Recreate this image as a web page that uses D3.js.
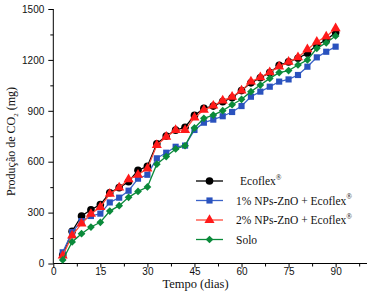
<!DOCTYPE html>
<html>
<head>
<meta charset="utf-8">
<script src="https://cdn.jsdelivr.net/npm/d3@7"></script>
<style>
	body { margin: 0; background: white; }
	.tick text { font-family: "Liberation Sans", Arial, sans-serif; font-size: 10px; fill: #111; }
	.serif { font-family: "Liberation Serif", "Times New Roman", serif; fill: #111; }
</style>
</head>
<body>
<svg id="chart" width="374" height="295"></svg>
<script>

	var days = [3,6,9,12,15,18,21,24,27,30,33,36,39,42,45,48,51,54,57,60,63,66,69,72,75,78,81,84,87,90];

	var ecoflex = [50,190,280,317,347,417,447,482,549,573,706,751,786,803,873,915,928,954,977,1019,1065,1095,1125,1168,1188,1210,1239,1288,1317,1362];
	var zno1 = [66,185,250,280,294,360,388,429,500,523,620,653,688,695,787,830,848,868,893,928,983,1013,1042,1072,1085,1111,1160,1215,1248,1278];
	var zno2 = [46,164,235,292,333,410,447,496,523,559,698,746,786,786,860,905,930,960,983,1019,1072,1097,1127,1160,1188,1215,1262,1307,1337,1386];
	var solo = [21,127,176,215,243,309,341,390,425,451,585,630,675,694,799,856,875,901,936,968,1013,1052,1091,1125,1137,1170,1200,1268,1301,1341];

	var xTicks = [0,15,30,45,60,75,90];
	var yTicks = [0,300,600,900,1200,1500];

	var series = [
		{ name: "Ecoflex", reg: true, values: ecoflex, color: "#000000", line: "#000000", shape: d3.symbolCircle, size: 46, rot: 0 },
		{ name: "1% NPs-ZnO + Ecoflex", reg: true, values: zno1, color: "#2a52be", line: "#3a62c8", shape: d3.symbolSquare, size: 38, rot: 0 },
		{ name: "2% NPs-ZnO + Ecoflex", reg: true, values: zno2, color: "#ff1a1a", line: "#ff4a3a", shape: d3.symbolTriangle, size: 44, rot: 0 },
		{ name: "Solo", reg: false, values: solo, color: "#0a8a3a", line: "#0a8a3a", shape: d3.symbolSquare, size: 30, rot: 45 }
	];

	var mLeft = 53.3, mRight = 367, mTop = 9, mBottom = 263.5;

	var x = d3.scaleLinear().domain([0, 100]).range([mLeft, mRight]);
	var y = d3.scaleLinear().domain([0, 1500]).range([mBottom, mTop]);

	var svg = d3.select("#chart");

	// minor ticks
	svg.append("g")
		.attr("transform", "translate(0," + mBottom + ")")
		.call(d3.axisBottom(x).tickValues(d3.range(7.5, 100, 15)).tickSize(3).tickFormat(""))
		.call(g => g.select(".domain").remove());
	svg.append("g")
		.attr("transform", "translate(" + mLeft + ",0)")
		.call(d3.axisLeft(y).tickValues(d3.range(150, 1500, 300)).tickSize(3).tickFormat(""))
		.call(g => g.select(".domain").remove());

	svg.append("g")
		.attr("transform", "translate(0," + mBottom + ")")
		.call(d3.axisBottom(x).tickValues(xTicks).tickSize(4).tickSizeOuter(0).tickPadding(0).tickFormat(d3.format("d")))
		.call(g => g.select(".domain").attr("d", "M" + mLeft + ",0H" + mRight));
	svg.append("g")
		.attr("transform", "translate(" + mLeft + ",0)")
		.call(d3.axisLeft(y).tickValues(yTicks).tickSize(5).tickSizeOuter(0).tickPadding(4).tickFormat(d3.format("d")))
		.call(g => g.select(".domain").attr("d", "M0," + mBottom + "V" + mTop));

	svg.selectAll(".tick line, .domain").attr("stroke", "#000").attr("stroke-width", 1);

	var line = d3.line().x((d, i) => x(days[i])).y(d => y(d));

	series.forEach(function(s) {
		var g = svg.append("g");
		g.append("path")
			.datum(s.values)
			.attr("d", line)
			.attr("fill", "none")
			.attr("stroke", s.line)
			.attr("stroke-width", 1.3);
		g.selectAll("path.pt")
			.data(s.values).enter().append("path")
				.attr("class", "pt")
				.attr("d", d3.symbol().type(s.shape).size(s.size))
				.attr("transform", (d, i) => "translate(" + x(days[i]) + "," + y(d) + ") rotate(" + s.rot + ")")
				.attr("fill", s.color);
	});

	// legend
	var leg = svg.append("g").attr("transform", "translate(196,181)");
	series.forEach(function(s, i) {
		var row = leg.append("g").attr("transform", "translate(0," + (i * 19.5) + ")");
		row.append("line").attr("x1", 0).attr("x2", 27).attr("stroke", s.line).attr("stroke-width", 1.3);
		row.append("path")
			.attr("d", d3.symbol().type(s.shape).size(s.size))
			.attr("transform", "translate(13.5,0) rotate(" + s.rot + ")")
			.attr("fill", s.color);
		var t = row.append("text")
			.attr("class", "serif")
			.attr("x", i == 0 ? 44 : 40)
			.attr("y", 4)
			.attr("font-size", 11.5)
			.text(s.name);
		if (s.reg) {
			t.append("tspan").attr("font-size", 7.5).attr("dy", -5.5).text("®");
		}
	});

	svg.append("text")
		.attr("class", "serif")
		.attr("x", 195.5)
		.attr("y", 288)
		.attr("text-anchor", "middle")
		.attr("font-size", 12.5)
		.text("Tempo (dias)");

	var yl = svg.append("text")
		.attr("class", "serif")
		.attr("transform", "translate(14.5,141.5) rotate(-90)")
		.attr("text-anchor", "middle")
		.attr("font-size", 12);
	yl.append("tspan").text("Produção de CO");
	yl.append("tspan").attr("font-size", 7).attr("dy", 3).text("2");
	yl.append("tspan").attr("dy", -3).text(" (mg)");

</script>
</body>
</html>
